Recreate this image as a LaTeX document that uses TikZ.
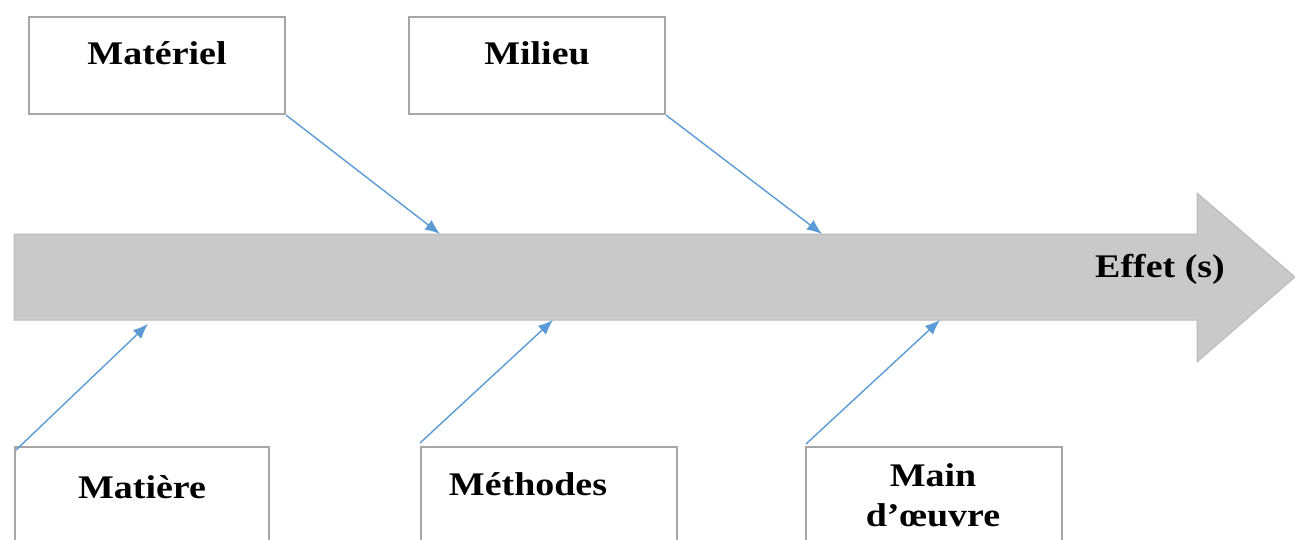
\documentclass[tikz,border=0pt]{standalone}
\usepackage{fontspec}
\newfontfamily\tnr[FakeStretch=1.15]{Liberation Serif}
\usetikzlibrary{arrows.meta}
\definecolor{boxgray}{HTML}{A6A6A6}
\definecolor{bodygray}{HTML}{C9C9C9}
\definecolor{bodyedge}{HTML}{BBBBBB}
\definecolor{linkblue}{HTML}{5B9BD5}
\tikzset{
  causebox/.style={draw=boxgray, line width=2.2pt, fill=white, minimum width=256pt, minimum height=97pt, inner sep=0pt, anchor=north west},
  causetext/.style={font=\tnr\bfseries\fontsize{33}{40}\selectfont, inner sep=0pt, anchor=base},
  link/.style={draw=linkblue, line width=1.4pt, -{Latex[length=15pt,width=12pt]}}
}
\begin{document}
\begin{tikzpicture}[x=1pt,y=-1pt]
\useasboundingbox (0,0) rectangle (1295,540);
\clip (0,0) rectangle (1295,540);
% main arrow
\draw[bodyedge, fill=bodygray, line width=1pt]
  (14,234) -- (1197,234) -- (1197,193) -- (1295,277) -- (1197,362) -- (1197,320) -- (14,320) -- cycle;
\coordinate (t1) at (440,234);
\coordinate (t2) at (822,234);
\coordinate (b1) at (148,324);
\coordinate (b2) at (553,320);
\coordinate (b3) at (940,320);
\node[causetext] (effet) at (1160,277) {Effet (s)};
% boxes
\node[causebox] (materiel) at (28,16) {};
\node[causebox] (milieu) at (408,16) {};
\node[causebox, minimum width=254pt, minimum height=120pt] (matiere) at (14,446) {};
\node[causebox, minimum height=120pt] (methodes) at (420,446) {};
\node[causebox, minimum height=120pt] (main) at (805,446) {};
\node[causetext] (tmateriel) at (157,65) {Matériel};
\node[causetext] (tmilieu) at (537,65) {Milieu};
\node[causetext] (tmatiere) at (142,498) {Matière};
\node[causetext] (tmethodes) at (528,495) {Méthodes};
\node[causetext] (tmain) at (933,486) {Main};
\node[causetext] (toeuvre) at (933,526) {d’œuvre};
% links
\draw[link] (materiel.south east) -- (t1);
\draw[link] (milieu.south east) -- (t2);
\draw[link] (matiere.north west) ++(2,4) -- (b1);
\draw[link] (methodes.north west) ++(0,-3) -- (b2);
\draw[link] (main.north west) ++(1,-2) -- (b3);
\end{tikzpicture}
\end{document}
